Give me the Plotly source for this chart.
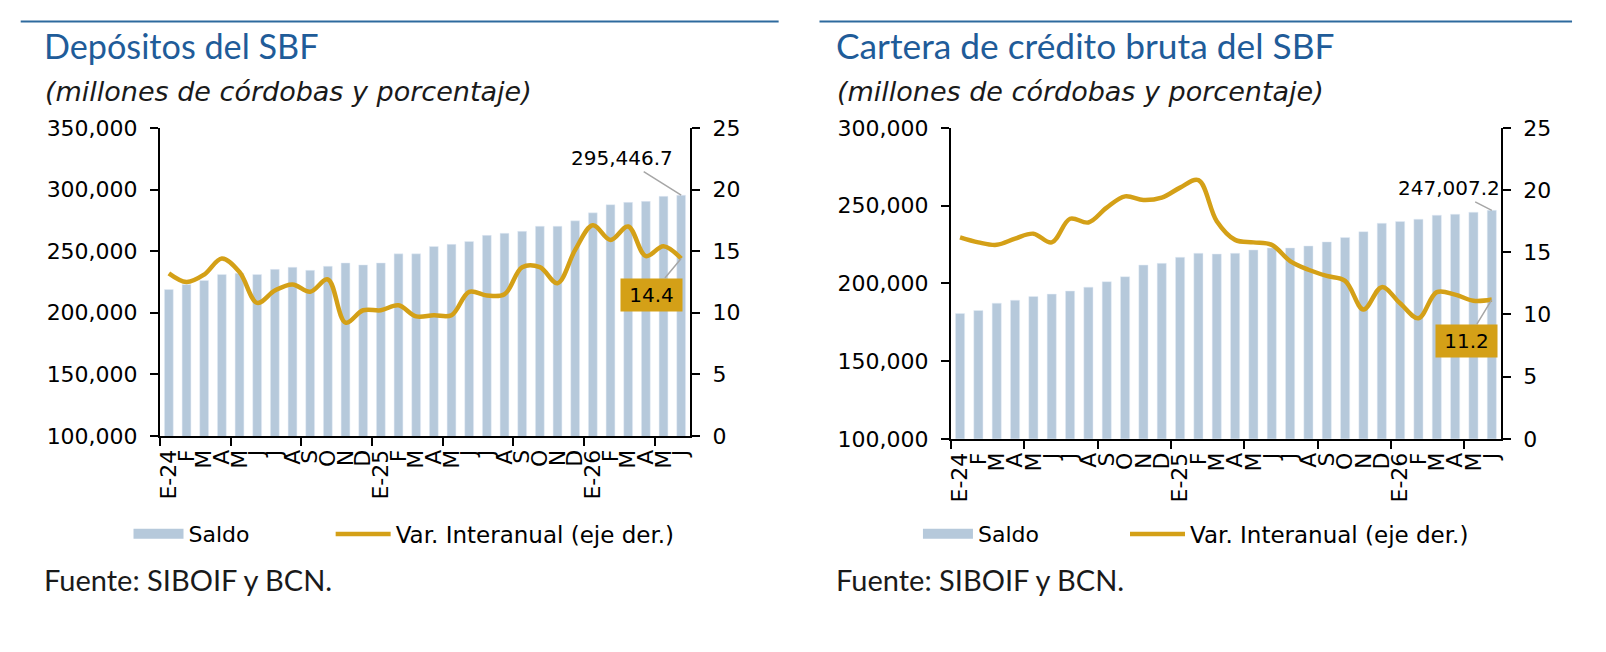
import plotly.graph_objects as go

# meses (E = enero)
meses = ["E-24", "F", "M", "A", "M", "J", "J", "A", "S", "O", "N", "D",
         "E-25", "F", "M", "A", "M", "J", "J", "A", "S", "O", "N", "D",
         "E-26", "F", "M", "A", "M", "J"]
pos = list(range(len(meses)))

# depositos del SBF
dep_saldo = [218900, 223000, 226200, 231100, 232000, 231000, 235200, 236900, 234400, 237700,
             240400, 238800, 240400, 247800, 247800, 253800, 255500, 257900, 262800, 264500,
             266100, 270200, 270200, 274600, 281100, 287700, 289600, 290400, 294500, 295446.7]
dep_var = [13.2, 12.5, 13.1, 14.4, 13.3, 10.8, 11.8, 12.3, 11.7, 12.7,
           9.2, 10.2, 10.2, 10.6, 9.7, 9.8, 9.8, 11.7, 11.4, 11.5,
           13.7, 13.7, 12.4, 15.1, 17.1, 15.9, 17.0, 14.6, 15.4, 14.4]

# cartera de credito bruta del SBF
cred_saldo = [180600, 182600, 187300, 189200, 191600, 193100, 195100, 197600, 201100, 204300,
              211800, 212900, 216800, 219400, 218900, 219400, 221500, 222800, 222800, 224100,
              226700, 229500, 233300, 238700, 239800, 241300, 243900, 244500, 245800, 247007.2]
cred_var = [16.2, 15.8, 15.6, 16.1, 16.5, 15.8, 17.7, 17.4, 18.6, 19.5,
            19.2, 19.4, 20.2, 20.8, 17.5, 16.0, 15.8, 15.6, 14.3, 13.6,
            13.1, 12.7, 10.4, 12.2, 10.9, 9.7, 11.8, 11.6, 11.1, 11.2]

AZUL_BAR = "#B6C9DB"
ORO = "#D4A017"
AZUL_TIT = "#1F5C99"
TICKFONT = dict(family="DejaVu Sans", size=22, color="black")
XFONT = dict(family="DejaVu Sans", size=22, color="black")

fig = go.Figure()


def panel(saldo, var, xa, ya, ya2, ley_a, ley_b):
    fig.add_trace(go.Bar(x=pos, y=saldo, name="Saldo", marker_color=AZUL_BAR,
                         xaxis=xa, yaxis=ya, showlegend=False))
    # muestra de leyenda para el saldo (caja ancha)
    fig.add_trace(go.Scatter(x=[None], y=[None], name="Saldo", mode="lines",
                             line=dict(color=AZUL_BAR, width=12),
                             xaxis=xa, yaxis=ya, legend=ley_a))
    fig.add_trace(go.Scatter(x=pos, y=var, name="Var. Interanual (eje der.)", mode="lines",
                             line=dict(color=ORO, width=4.5, shape="spline", smoothing=1),
                             xaxis=xa, yaxis=ya2, legend=ley_b))


panel(dep_saldo, dep_var, "x", "y", "y2", "legend", "legend2")
panel(cred_saldo, cred_var, "x2", "y3", "y4", "legend3", "legend4")

tick_borde = [p - 0.5 for p in pos[::4]]


def eje_x(dom, anchor):
    return dict(domain=dom, anchor=anchor, range=[-0.5, len(meses) - 0.5],
                tickmode="array", tickvals=pos, ticktext=meses, tickangle=-90,
                ticks="", tickfont=XFONT, ticklabelstandoff=3,
                showline=True, linecolor="black", linewidth=2,
                showgrid=False, zeroline=False,
                minor=dict(tickmode="array", tickvals=tick_borde, ticks="outside",
                           ticklen=8, tickcolor="black", tickwidth=1.5, showgrid=False))


def eje_y(dom, anchor, rng, dtick, side="left", overlaying=None, fmt=None):
    d = dict(domain=dom, anchor=anchor, range=rng, dtick=dtick, side=side,
             ticks="outside", ticklen=8, tickcolor="black", tickwidth=1.5,
             tickfont=TICKFONT, ticklabelstandoff=8,
             showline=True, linecolor="black", linewidth=2,
             showgrid=False, zeroline=False)
    if overlaying:
        d["overlaying"] = overlaying
    if fmt:
        d["tickformat"] = fmt
    return d


def leyenda(x, size, ancho):
    return dict(orientation="h", x=x, y=0.1588, xanchor="left", yanchor="middle",
                font=dict(family="DejaVu Sans", size=size, color="black"),
                itemwidth=ancho, bgcolor="rgba(0,0,0,0)")


fig.update_layout(
    width=1590, height=636,
    margin=dict(l=0, r=0, t=0, b=0),
    paper_bgcolor="white", plot_bgcolor="white",
    bargap=0.5,
    font=dict(family="DejaVu Sans", color="black"),
    xaxis=eje_x([0.0935, 0.4283], "y"),
    yaxis=eje_y([0.3193, 0.8233], "x", [100000, 350000], 50000, fmt=","),
    yaxis2=eje_y([0.3193, 0.8233], "x", [0, 25], 5, side="right", overlaying="y"),
    xaxis2=eje_x([0.5931, 0.9406], "y3"),
    yaxis3=eje_y([0.3145, 0.8233], "x2", [100000, 300000], 50000, fmt=","),
    yaxis4=eje_y([0.3145, 0.8233], "x2", [0, 25], 5, side="right", overlaying="y3"),
    legend=leyenda(0.0736, 22, 50),
    legend2=leyenda(0.2013, 23, 55),
    legend3=leyenda(0.5723, 22, 50),
    legend4=leyenda(0.7031, 23, 55),
)

# lineas superiores
fig.add_shape(type="line", xref="paper", yref="paper", x0=0.0055, x1=0.4843, y0=0.9975, y1=0.9975,
              line=dict(color="#2E6A9E", width=2))
fig.add_shape(type="line", xref="paper", yref="paper", x0=0.5101, x1=0.9855, y0=0.9975, y1=0.9975,
              line=dict(color="#2E6A9E", width=2))

textos = [
    (0.0190, "Depósitos del SBF", 34.2),
    (0.5195, "Cartera de crédito bruta del SBF", 35.3),
]
for x0, tit, tam in textos:
    fig.add_annotation(x=x0, y=1 - 27 / 636, xref="paper", yref="paper", text=tit,
                       showarrow=False, xanchor="left", yanchor="middle",
                       font=dict(family="Lato", size=tam, color=AZUL_TIT))
    fig.add_annotation(x=x0 + 0.0005, y=1 - 74 / 636, xref="paper", yref="paper",
                       text="<i>(millones de córdobas y porcentaje)</i>",
                       showarrow=False, xanchor="left", yanchor="middle",
                       font=dict(family="DejaVu Sans", size=27, color="#1a1a1a"))
    fig.add_annotation(x=x0, y=1 - 582 / 636, xref="paper", yref="paper",
                       text="Fuente: SIBOIF y BCN.", showarrow=False, xanchor="left",
                       yanchor="middle", font=dict(family="Lato", size=29, color="#1a1a1a"))

# etiquetas del ultimo dato
ult = len(meses) - 1
etiquetas = [
    ("x", "y", dep_saldo[ult], f"{dep_saldo[ult]:,.1f}", -59, -37, None),
    ("x", "y2", dep_var[ult], f"{dep_var[ult]:.1f}", -30, 36, ORO),
    ("x2", "y3", cred_saldo[ult], f"{cred_saldo[ult]:,.1f}", -43, -22, None),
    ("x2", "y4", cred_var[ult], f"{cred_var[ult]:.1f}", -25, 41, ORO),
]
for xr, yr, val, txt, ax, ay, fondo in etiquetas:
    extra = dict(bgcolor=fondo, borderpad=5, width=51, height=22) if fondo else {}
    fig.add_annotation(x=pos[ult], y=val, xref=xr, yref=yr, text=txt,
                       showarrow=True, arrowhead=0, arrowcolor="#A6A6A6", arrowwidth=1.5,
                       ax=ax, ay=ay, font=dict(family="DejaVu Sans", size=20, color="black"),
                       **extra)

fig.write_html("out.html")
